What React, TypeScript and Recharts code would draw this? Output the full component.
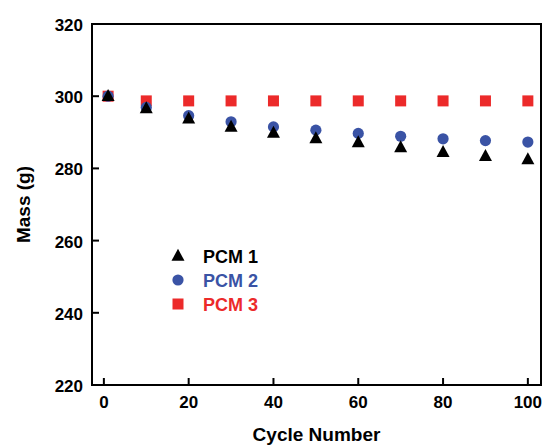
import React from 'react';
import { ScatterChart, Scatter, XAxis, YAxis, ReferenceArea } from 'recharts';

const cycles = [1, 10, 20, 30, 40, 50, 60, 70, 80, 90, 100];
const pcm1 = [300, 296.6, 293.8, 291.5, 289.8, 288.3, 287.2, 285.8, 284.5, 283.4, 282.5];
const pcm2 = [300, 296.9, 294.6, 292.9, 291.5, 290.6, 289.7, 288.9, 288.2, 287.7, 287.3];
const pcm3 = [300, 298.7, 298.7, 298.7, 298.7, 298.7, 298.7, 298.7, 298.7, 298.7, 298.7];

const xTicks = [0, 20, 40, 60, 80, 100];
const yTicks = [220, 240, 260, 280, 300, 320];
const X_DOMAIN = [-2.8, 103.1];
const Y_DOMAIN = [220, 320];

const FONT = '"Liberation Sans", Arial, Helvetica, sans-serif';
const RED = '#EC2A2A';
const BLUE = '#3A53A5';
const BLACK = '#000000';

const toPoints = (ys: number[]) => cycles.map((c, i) => ({ x: c, y: ys[i] }));

const Triangle = (props: any) => {
  const { cx, cy } = props;
  if (cx == null || cy == null) return null;
  const w = 13, h = 12;
  return <polygon points={`${cx},${cy - h * 0.6} ${cx - w / 2},${cy + h * 0.4} ${cx + w / 2},${cy + h * 0.4}`} fill={BLACK} />;
};
const Circle = (props: any) => {
  const { cx, cy } = props;
  if (cx == null || cy == null) return null;
  return <circle cx={cx} cy={cy} r={5.6} fill={BLUE} />;
};
const Square = (props: any) => {
  const { cx, cy } = props;
  if (cx == null || cy == null) return null;
  const s = 11;
  return <rect x={cx - s / 2} y={cy - s / 2} width={s} height={s} fill={RED} />;
};

const series = [
  { name: 'PCM 3', data: pcm3, color: RED, shape: Square },
  { name: 'PCM 2', data: pcm2, color: BLUE, shape: Circle },
  { name: 'PCM 1', data: pcm1, color: BLACK, shape: Triangle },
];
const legendOrder = ['PCM 1', 'PCM 2', 'PCM 3'];

const XTick = (props: any) => {
  const { x, y, payload } = props;
  return (
    <g>
      <line x1={x} x2={x} y1={y} y2={y - 7} stroke="#000" strokeWidth={2} />
      <text x={x} y={y + 23} textAnchor="middle" fontFamily={FONT} fontWeight="bold" fontSize={17} fill="#000">
        {payload.value}
      </text>
    </g>
  );
};
const YTick = (props: any) => {
  const { x, y, payload } = props;
  return (
    <g>
      <line x1={x} x2={x + 7} y1={y} y2={y} stroke="#000" strokeWidth={2} />
      <text x={x - 9} y={y + 7} textAnchor="end" fontFamily={FONT} fontWeight="bold" fontSize={17} fill="#000">
        {payload.value}
      </text>
    </g>
  );
};

const LegendBox = () => (
  <svg width={120} height={80} style={{ display: 'block', position: 'absolute', left: 165, top: 240 }}>
    {legendOrder.map((n, i) => {
      const s = series.find((q) => q.name === n)!;
      const Shape = s.shape;
      const cy = 16 + i * 24;
      return (
        <g key={n}>
          <Shape cx={13} cy={cy} />
          <text x={38} y={cy + 6.5} fontFamily={FONT} fontWeight="bold" fontSize={18} fill={s.color}>
            {n}
          </text>
        </g>
      );
    })}
  </svg>
);

export default function App() {
  return (
    <div style={{ position: 'absolute', left: 0, top: 0, width: 544, height: 446, background: '#fff' }}>
      <ScatterChart width={544} height={446} margin={{ top: 24, right: 3, left: 32, bottom: 31 }}>
        <XAxis
          type="number"
          dataKey="x"
          domain={X_DOMAIN}
          ticks={xTicks}
          allowDataOverflow
          height={30}
          tickSize={0}
          tickMargin={0}
          tickLine={false}
          axisLine={{ stroke: '#000', strokeWidth: 2 }}
          tick={<XTick />}
          interval={0}
          label={{
            content: (p: any) => {
              const vb = p.viewBox;
              return (
                <text x={vb.x + vb.width / 2} y={vb.y + 56} textAnchor="middle" fontFamily={FONT} fontWeight="bold" fontSize={19} fill="#000">
                  Cycle Number
                </text>
              );
            },
          }}
        />
        <YAxis
          type="number"
          dataKey="y"
          domain={Y_DOMAIN}
          ticks={yTicks}
          allowDataOverflow
          width={60}
          tickSize={0}
          tickMargin={0}
          tickLine={false}
          axisLine={{ stroke: '#000', strokeWidth: 2 }}
          tick={<YTick />}
          interval={0}
          label={{
            content: (p: any) => {
              const vb = p.viewBox;
              const cx = 23;
              const cy = vb.y + vb.height / 2;
              return (
                <text x={cx} y={cy} transform={`rotate(-90 ${cx} ${cy})`} textAnchor="middle" dominantBaseline="central" fontFamily={FONT} fontWeight="bold" fontSize={19} fill="#000">
                  Mass (g)
                </text>
              );
            },
          }}
        />
        <ReferenceArea x1={X_DOMAIN[0]} x2={X_DOMAIN[1]} y1={Y_DOMAIN[0]} y2={Y_DOMAIN[1]} fill="none" stroke="#000" strokeWidth={2} strokeOpacity={1} ifOverflow="visible" />
        {series.map((s) => (
          <Scatter key={s.name} name={s.name} data={toPoints(s.data)} fill={s.color} shape={s.shape} isAnimationActive={false} />
        ))}
      </ScatterChart>
      <LegendBox />
    </div>
  );
}
